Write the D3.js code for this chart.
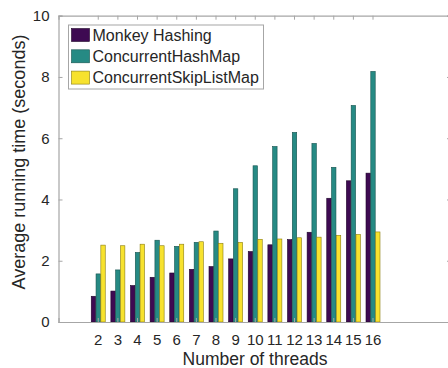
<!DOCTYPE html>
<html>
<head>
<meta charset="utf-8">
<script src="https://cdn.jsdelivr.net/npm/d3@7"></script>
<style>
  body { margin: 0; background: #fff; }
  svg { display: block; font-family: "Liberation Sans", Arial, sans-serif; }
</style>
</head>
<body>
<div class="chart"></div>
<script>
// thread counts on the x axis
const threads = [2, 3, 4, 5, 6, 7, 8, 9, 10, 11, 12, 13, 14, 15, 16];
const seriesNames = ["Monkey Hashing", "ConcurrentHashMap", "ConcurrentSkipListMap"];
const monkeyHashing = [0.84, 1.01, 1.19, 1.46, 1.60, 1.72, 1.81, 2.06, 2.30, 2.52, 2.69, 2.93, 4.04, 4.61, 4.86];
const concurrentHashMap = [1.57, 1.70, 2.27, 2.67, 2.47, 2.60, 2.97, 4.35, 5.10, 5.73, 6.19, 5.83, 5.05, 7.07, 8.18];
const skipListMap = [2.51, 2.49, 2.54, 2.49, 2.54, 2.62, 2.57, 2.60, 2.70, 2.71, 2.75, 2.77, 2.83, 2.86, 2.94];
const yTicks = [0, 2, 4, 6, 8, 10];

const colors = ["#3e0a52", "#268a84", "#f7e22e"];
const edges = ["#1e0428", "#15524e", "#8a7d10"];

const width = 448, height = 368;
const margin = { left: 58.5, top: 15.7, bottom: 46 };

const svg = d3.select(".chart").append("svg")
  .attr("width", width)
  .attr("height", height);

const x = d3.scaleLinear().domain([0, 20]).range([margin.left, 451]);
const y = d3.scaleLinear().domain([0, 10]).range([height - margin.bottom, margin.top]);
const sub = d3.scaleBand().domain(seriesNames).range([-7, 7]).paddingInner(0.08);

const rows = threads.map((t, i) => ({
  t: t,
  vals: [monkeyHashing[i], concurrentHashMap[i], skipListMap[i]]
}));

// bars
const groups = svg.selectAll("g.grp")
  .data(rows)
  .enter().append("g")
  .attr("class", "grp")
  .attr("transform", d => `translate(${x(d.t) + 0.5},0)`);

groups.selectAll("rect")
  .data(d => d.vals.map((v, k) => ({ v: v, k: k })))
  .enter().append("rect")
  .attr("x", d => sub(seriesNames[d.k]))
  .attr("width", sub.bandwidth())
  .attr("y", d => y(d.v))
  .attr("height", d => y(0) - y(d.v))
  .attr("fill", d => colors[d.k])
  .attr("stroke", d => edges[d.k])
  .attr("stroke-width", 0.6);

// axes box
const axisColor = "#a6a6a6";
const textColor = "#262626";

const bottomAxis = d3.axisBottom(x).tickValues(threads).tickSize(-4).tickPadding(12).tickFormat(d3.format("d"));
const topAxis = d3.axisTop(x).tickValues(threads).tickSize(-4).tickFormat("");
const leftAxis = d3.axisLeft(y).tickValues(yTicks).tickSize(-4).tickPadding(9);
const rightAxis = d3.axisRight(y).tickValues(yTicks).tickSize(-4).tickFormat("");

function style(g) {
  g.select(".domain").attr("stroke", axisColor).attr("stroke-width", 1.2);
  g.selectAll(".tick line").attr("stroke", axisColor);
  g.selectAll(".tick text").attr("fill", textColor).style("font-size", "15px")
    .style("font-family", "Liberation Sans, Arial, sans-serif");
}

svg.append("g").attr("transform", `translate(0,${y(0)})`).call(bottomAxis).call(style);
svg.append("g").attr("transform", `translate(0,${y(10)})`).call(topAxis).call(style);
svg.append("g").attr("transform", `translate(${margin.left},0)`).call(leftAxis).call(style);
svg.append("g").attr("transform", `translate(${x(20)},0)`).call(rightAxis).call(style);

// axis titles
svg.append("text")
  .attr("x", 255).attr("y", 365)
  .attr("text-anchor", "middle")
  .attr("fill", textColor)
  .style("font-size", "17.5px")
  .text("Number of threads");

svg.append("text")
  .attr("transform", `translate(25,162) rotate(-90)`)
  .attr("text-anchor", "middle")
  .attr("fill", textColor)
  .style("font-size", "18px")
  .text("Average running time (seconds)");

// legend
const legend = svg.append("g").attr("transform", "translate(68.5,25)");
legend.append("rect")
  .attr("width", 195).attr("height", 64)
  .attr("fill", "#fff").attr("stroke", axisColor);

const items = legend.selectAll("g.item")
  .data(seriesNames)
  .enter().append("g")
  .attr("class", "item")
  .attr("transform", (d, i) => `translate(3,${10 + i * 21.3 - 6.5})`);

items.append("rect")
  .attr("width", 18).attr("height", 13)
  .attr("fill", (d, i) => colors[i])
  .attr("stroke", (d, i) => edges[i])
  .attr("stroke-width", 0.6);

items.append("text")
  .attr("x", 21).attr("y", 12)
  .attr("fill", textColor)
  .style("font-size", "16px")
  .text(d => d);
</script>
</body>
</html>
